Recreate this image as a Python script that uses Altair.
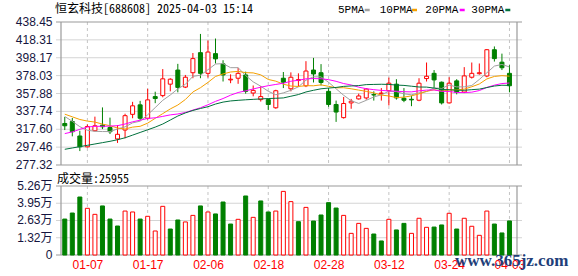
import altair as alt
import pandas as pd

# ---------------- data ----------------
idx = list(range(60))
opens = [324.1, 326.3, 310.0, 297.8, 315.9, 322.2, 319.6, 306.7, 316.7, 334.4,
         345.1, 330.0, 354.4, 355.5, 368.4, 384.3, 365.1, 381.3, 403.9, 380.6,
         402.8, 391.3, 373.2, 375.1, 378.8, 358.4, 351.0, 351.0, 341.8, 375.1,
         363.2, 372.5, 366.6, 384.3, 381.3, 360.3, 345.5, 330.7, 347.3, 351.8,
         352.9, 356.6, 357.7, 361.0, 368.4, 352.5, 351.4, 350.3, 374.7, 380.6,
         370.6, 347.3, 372.1, 359.5, 376.2, 380.2, 377.6, 407.2, 393.2, 380.6]
highs = [331.5, 330.3, 315.9, 323.0, 331.8, 342.2, 330.7, 322.2, 335.1, 348.5,
         349.6, 363.2, 359.9, 385.4, 375.1, 391.3, 378.8, 403.5, 425.0, 417.6,
         419.8, 395.4, 379.5, 386.9, 382.5, 366.9, 366.2, 352.2, 362.1, 382.1,
         381.7, 380.6, 394.3, 398.0, 391.0, 364.0, 349.9, 354.0, 351.8, 357.7,
         364.0, 360.3, 364.0, 375.8, 374.0, 364.0, 355.5, 375.1, 392.8, 384.3,
         371.4, 376.2, 374.0, 387.6, 392.8, 391.7, 408.0, 410.9, 402.8, 389.8]
lows = [316.7, 309.6, 293.0, 297.1, 315.2, 317.8, 312.2, 302.2, 307.4, 330.0,
        327.7, 328.5, 347.0, 353.6, 360.3, 359.2, 364.0, 375.1, 375.1, 375.8,
        391.7, 371.4, 369.5, 368.8, 357.7, 354.7, 348.8, 339.2, 340.7, 364.0,
        360.3, 365.8, 365.1, 370.3, 366.9, 342.9, 325.9, 329.6, 340.7, 351.0,
        351.0, 349.9, 349.9, 344.4, 351.0, 348.1, 343.6, 349.2, 371.4, 364.0,
        345.5, 346.6, 356.9, 358.4, 374.7, 379.1, 376.2, 393.9, 384.3, 359.2]
closes = [321.5, 314.8, 297.8, 320.7, 321.5, 320.4, 314.8, 311.9, 332.9, 344.0,
          330.0, 350.7, 352.2, 374.4, 374.0, 364.7, 376.2, 397.2, 380.6, 404.6,
          396.9, 378.8, 374.0, 380.6, 360.3, 361.4, 354.4, 345.5, 361.0, 370.6,
          376.2, 373.6, 383.2, 379.9, 370.3, 345.5, 337.0, 346.6, 349.2, 355.1,
          362.9, 356.2, 358.4, 369.5, 352.9, 350.3, 350.7, 369.5, 377.3, 373.2,
          347.3, 369.5, 359.2, 377.7, 380.6, 381.3, 407.2, 397.2, 386.9, 366.6]
ma5 = [332.0, 326.5, 320.5, 316.5, 315.3, 315.0, 315.0, 317.9, 320.3, 324.8,
       326.7, 333.9, 342.0, 350.2, 356.2, 363.1, 368.2, 377.2, 378.5, 384.7,
       391.1, 391.6, 387.0, 387.0, 378.1, 371.0, 366.1, 360.4, 356.5, 358.6,
       361.5, 365.4, 372.9, 376.7, 376.6, 370.5, 363.2, 355.9, 349.7, 346.7,
       350.2, 354.0, 356.4, 360.4, 360.0, 357.5, 356.4, 358.6, 360.1, 364.2,
       363.6, 367.4, 365.3, 365.4, 366.9, 373.7, 381.2, 388.8, 390.6, 387.8]
ma10 = [334.6, 331.6, 328.6, 326.8, 325.7, 323.4, 321.6, 319.0, 317.9, 320.0,
        320.9, 324.5, 329.9, 335.2, 340.5, 344.9, 351.1, 359.6, 364.4, 370.4,
        377.1, 379.9, 382.1, 382.8, 381.4, 381.1, 378.9, 373.7, 371.8, 368.4,
        366.3, 365.8, 366.7, 366.6, 367.6, 366.0, 364.3, 364.4, 363.2, 361.7,
        360.3, 358.6, 356.1, 355.1, 353.3, 353.8, 355.2, 357.5, 360.3, 362.1,
        360.5, 361.9, 361.9, 362.8, 365.5, 368.6, 374.3, 377.1, 378.0, 377.4]
ma20 = [312.7, 314.6, 317.5, 320.1, 320.9, 320.9, 321.2, 321.6, 323.5, 326.0,
        327.8, 329.8, 330.5, 332.1, 333.8, 334.8, 336.5, 339.2, 341.8, 345.2,
        349.0, 352.2, 356.0, 359.0, 360.9, 363.0, 365.0, 366.7, 368.1, 369.4,
        371.7, 372.8, 374.4, 374.7, 374.5, 373.5, 371.6, 369.1, 367.5, 365.0,
        363.3, 362.2, 361.4, 360.8, 360.5, 359.9, 359.7, 360.9, 361.7, 361.9,
        360.4, 360.2, 359.0, 358.9, 359.4, 361.2, 364.7, 367.3, 369.1, 369.7]
ma30 = [295.0, 296.5, 298.0, 299.5, 301.0, 302.5, 304.0, 305.8, 308.0, 311.0,
        314.0, 317.0, 320.0, 323.5, 328.0, 332.5, 336.0, 338.8, 341.0, 343.0,
        346.0, 348.2, 349.5, 350.2, 350.8, 351.3, 351.8, 352.2, 352.5, 352.9,
        354.8, 356.7, 359.6, 361.5, 363.2, 364.0, 364.7, 365.9, 366.4, 366.8,
        367.9, 368.1, 368.3, 368.1, 367.4, 367.0, 366.1, 365.2, 365.1, 364.0,
        362.4, 362.1, 361.6, 361.5, 362.2, 362.8, 364.6, 366.3, 367.2, 367.0]
volumes = [27400, 32000, 44200, 35600, 31000, 37400, 27400, 22100, 33500, 32800,
           27400, 29500, 18300, 37100, 19800, 26700, 25200, 30200, 37400, 32800,
           31300, 40400, 23600, 27200, 45000, 28700, 41200, 32800, 33500, 48500,
           40700, 25400, 36300, 25900, 30500, 39900, 35800, 30200, 16500, 24100,
           20300, 16000, 10700, 27200, 19100, 24100, 16500, 28000, 21100, 21300,
           22900, 31800, 19800, 28000, 21900, 15000, 33500, 23600, 16800, 25955]
vol_dir = list("GGGRRGGGRRGRRRGGRRGRGGGRGRGGRRRGRGGGGRRRRGGRGGRRRGGRGRRRRGGG")

price_ticks = [277.32, 297.46, 317.60, 337.74, 357.88, 378.03, 398.17, 418.31, 438.45]
price_labels = ["277.32", "297.46", "317.60", "337.74", "357.88", "378.03", "398.17", "418.31", "438.45"]
vol_ticks = [0, 13150, 26300, 39450, 52600]
vol_labels = ["0", "1.32万", "2.63万", "3.95万", "5.26万"]
date_ticks = [3, 11, 19, 27, 35, 43, 51, 59]
date_labels = ["01-07", "01-17", "02-06", "02-18", "02-28", "03-12", "03-24", "04-03"]
title_text = "恒玄科技[688608] 2025-04-03 15:14"
vol_title = "成交量:25955"
ma_names = ["5PMA", "10PMA", "20PMA", "30PMA"]

# ---------------- layout / style ----------------
W, H = 466, 233
P_DOM = [175.91, 438.45]
V_DOM = [0, 177620]
RED, GREEN = "#FF0000", "#008000"
MA_COLORS = ["#A0A0A0", "#F5A000", "#FF00FF", "#00703C"]
GRID = "#D4D4D4"
BORDER = "#9A9A9A"
LABEL_COLOR = "#151540"

candles = pd.DataFrame({
    "i": idx, "o": opens, "h": highs, "l": lows, "c": closes,
})
candles["dir"] = ["up" if c >= o else "down" for o, c in zip(opens, closes)]
candles["top"] = [max(o, c) for o, c in zip(opens, closes)]
candles["bot"] = [min(o, c) for o, c in zip(opens, closes)]

ma_df = pd.DataFrame({"i": idx, "ma5": ma5, "ma10": ma10, "ma20": ma20, "ma30": ma30})
vol_df = pd.DataFrame({"i": idx, "v": volumes,
                       "dir": ["up" if d == "R" else "down" for d in vol_dir]})

label_expr = "[" + ",".join(f"'{d}'" for d in date_labels) + "][indexof([" + \
    ",".join(str(t) for t in date_ticks) + "], datum.value)]"

X = alt.X("i:Q", scale=alt.Scale(domain=[-0.5, 60.0], nice=False, zero=False),
          axis=alt.Axis(values=date_ticks, labelExpr=label_expr, grid=False, ticks=False,
                        domain=False, labelColor=RED, labelFont="Liberation Sans",
                        labelFontSize=12, labelPadding=4, title=None, labelFlush=False,
                        labelOverlap=False))


def Yp(field):
    return alt.Y(field, type="quantitative",
                 scale=alt.Scale(domain=P_DOM, nice=False, zero=False), axis=None)


def Yv(field):
    return alt.Y(field, type="quantitative",
                 scale=alt.Scale(domain=V_DOM, nice=False, zero=True), axis=None)


fill_scale = alt.Scale(domain=["up", "down"], range=["#FFFFFF", GREEN])
stroke_scale = alt.Scale(domain=["up", "down"], range=[RED, GREEN])

p_lo, p_hi = price_ticks[0], price_ticks[-1]
v_lo, v_hi = vol_ticks[0], vol_ticks[-1]

layers = []
# horizontal grid lines
layers.append(alt.Chart(pd.DataFrame({"v": price_ticks[1:-1]})).mark_rule(
    color=GRID, strokeWidth=1).encode(y=Yp("v")))
layers.append(alt.Chart(pd.DataFrame({"v": vol_ticks[1:-1]})).mark_rule(
    color=GRID, strokeWidth=1).encode(y=Yv("v")))
# vertical dashed grid lines
vg = pd.DataFrame({"i": date_ticks, "a": [p_hi] * 8, "b": [p_lo] * 8,
                   "va": [v_hi] * 8, "vb": [v_lo] * 8})
layers.append(alt.Chart(vg).mark_rule(color="#C4C4C4", strokeDash=[3, 3], strokeWidth=1).encode(
    x=X, y=Yp("a"), y2="b"))
layers.append(alt.Chart(vg).mark_rule(color="#C4C4C4", strokeDash=[3, 3], strokeWidth=1).encode(
    x=X, y=Yv("va"), y2="vb"))
# panel borders
layers.append(alt.Chart(pd.DataFrame({"v": [p_lo, p_hi]})).mark_rule(
    color=BORDER, strokeWidth=1.2).encode(y=Yp("v")))
layers.append(alt.Chart(pd.DataFrame({"v": [v_lo, v_hi]})).mark_rule(
    color=BORDER, strokeWidth=1.2).encode(y=Yv("v")))
bd = pd.DataFrame({"i": [-0.5, 60.0], "a": [p_hi, p_hi], "b": [p_lo, p_lo],
                   "va": [v_hi, v_hi], "vb": [v_lo, v_lo]})
layers.append(alt.Chart(bd).mark_rule(color=BORDER, strokeWidth=1.2).encode(
    x=X, y=Yp("a"), y2="b"))
layers.append(alt.Chart(bd).mark_rule(color=BORDER, strokeWidth=1.2).encode(
    x=X, y=Yv("va"), y2="vb"))

# candles: wicks then bodies
layers.append(alt.Chart(candles).mark_rule(strokeWidth=1).encode(
    x=X, y=Yp("l"), y2="h",
    stroke=alt.Stroke("dir:N", scale=stroke_scale, legend=None)))
layers.append(alt.Chart(candles).mark_bar(size=4, strokeWidth=1).encode(
    x=X, y=Yp("bot"), y2="top",
    fill=alt.Fill("dir:N", scale=fill_scale, legend=None),
    stroke=alt.Stroke("dir:N", scale=stroke_scale, legend=None)))

# moving averages
for col, colr in zip(["ma5", "ma10", "ma20", "ma30"], MA_COLORS):
    layers.append(alt.Chart(ma_df).mark_line(color=colr, strokeWidth=1).encode(
        x=X, y=Yp(col)))

# volume bars
layers.append(alt.Chart(vol_df).mark_bar(size=4, strokeWidth=1).encode(
    x=X, y=Yv("v"),
    fill=alt.Fill("dir:N", scale=fill_scale, legend=None),
    stroke=alt.Stroke("dir:N", scale=stroke_scale, legend=None)))

# axis labels as text
layers.append(alt.Chart(pd.DataFrame({"v": price_ticks, "lab": price_labels})).mark_text(
    align="right", baseline="middle", fontSize=12, font="Liberation Sans",
    color=LABEL_COLOR).encode(x=alt.value(-3.5), y=Yp("v"), text="lab:N"))
layers.append(alt.Chart(pd.DataFrame({"v": vol_ticks, "lab": vol_labels})).mark_text(
    align="right", baseline="middle", fontSize=12,
    font="Liberation Sans, Noto Sans CJK SC",
    color=LABEL_COLOR).encode(x=alt.value(-3.5), y=Yv("v"), text="lab:N"))

# titles
layers.append(alt.Chart(pd.DataFrame({"t": [title_text]})).mark_text(
    align="left", baseline="alphabetic", fontSize=12,
    font="Noto Sans Mono CJK SC, Noto Sans CJK SC", color="#000000").encode(
    x=alt.value(-1), y=alt.value(-9), text="t:N"))
layers.append(alt.Chart(pd.DataFrame({"t": [vol_title]})).mark_text(
    align="left", baseline="middle", fontSize=12,
    font="Noto Sans Mono CJK SC, Noto Sans CJK SC", color="#000000").encode(
    x=alt.value(1), y=alt.value(156.5), text="t:N"))

# legend (label followed by coloured dash)
leg_text_x = [282, 323.7, 369.3, 415.3]
leg_dash_x = [308.7, 356, 403.7, 449.3]
for name, colr, tx, dx in zip(ma_names, MA_COLORS, leg_text_x, leg_dash_x):
    layers.append(alt.Chart(pd.DataFrame({"t": [name]})).mark_text(
        align="left", baseline="middle", fontSize=11, font="Liberation Mono",
        color="#000000").encode(x=alt.value(tx), y=alt.value(-12.5), text="t:N"))
    layers.append(alt.Chart(pd.DataFrame({"t": [name]})).mark_rule(
        color=colr, strokeWidth=2.5).encode(
        x=alt.value(dx), x2=alt.value(dx + 5), y=alt.value(-12)))

# watermark
layers.append(alt.Chart(pd.DataFrame({"t": ["www.365jz.com"]})).mark_text(
    align="left", baseline="middle", fontSize=17, font="Liberation Serif",
    fontWeight="bold", color="#1F3F7A").encode(
    x=alt.value(399), y=alt.value(239), text="t:N"))

chart = alt.layer(*layers).resolve_scale(y="independent").properties(
    width=W, height=H,
    padding={"left": 56, "top": 22, "right": 56, "bottom": 21},
    autosize=alt.AutoSizeParams(type="none"),
    background="#FFFFFF",
).configure_view(stroke=None)

chart.save("out.html", embed_options={"renderer": "svg", "actions": False})
